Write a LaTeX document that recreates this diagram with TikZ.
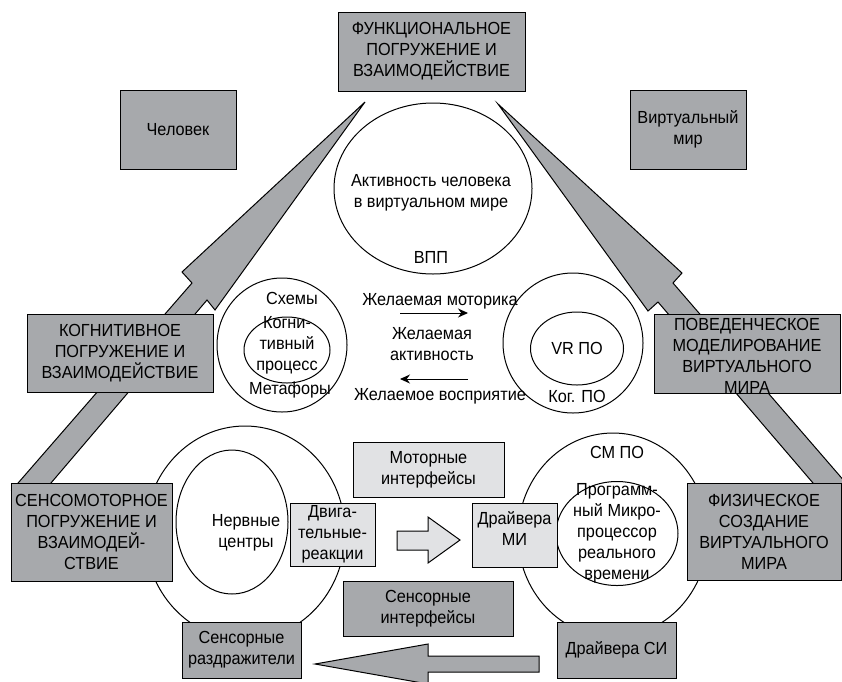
\documentclass[tikz,border=0pt]{standalone}
\usepackage{fontspec}
\setmainfont{Liberation Sans}[FakeStretch=0.93]
\usetikzlibrary{arrows.meta}
\definecolor{darkbox}{RGB}{167,169,172}
\definecolor{lightbox}{RGB}{225,226,228}
\tikzset{
  txt/.style={inner sep=0pt, align=center, font=\fontsize{17.5}{21}\selectfont},
  dbox/.style={txt, draw, fill=darkbox, line width=1pt},
  lbox/.style={txt, draw, fill=lightbox, line width=1pt},
  ring/.style={draw, line width=1pt},
  bigarrow/.style={draw, fill=darkbox, line width=1pt},
  blockarrow/.style={draw, fill=lightbox, line width=1pt}
}
\begin{document}
\begin{tikzpicture}[x=1pt, y=-1pt, >={Stealth[length=10pt,width=9pt]}, line join=miter]
\useasboundingbox (0,0) rectangle (842,681);
\clip (0,0) rectangle (842,681);
% big side arrows
\coordinate (Ltip) at (365,102);
\coordinate (Rtip) at (498,104);
\draw[bigarrow] (12,490) -- (192,283) -- (182,272) -- (Ltip) -- (215,310) -- (207,300) -- (45,490) -- cycle;
\draw[bigarrow] (852,490) -- (673,283) -- (682,273) -- (Rtip) -- (648,311) -- (658,302) -- (819,490) -- cycle;
% ellipses
\coordinate (vpp) at (433,188.5);
\coordinate (cogout) at (282,345);
\coordinate (cogin) at (287,350);
\coordinate (vrout) at (573,343);
\coordinate (vrin) at (577,348.5);
\coordinate (nervout) at (245,533);
\coordinate (nervin) at (232,522);
\coordinate (smout) at (613,535);
\coordinate (smin) at (617,533.5);
\draw[ring] (vpp) ellipse [x radius=99pt, y radius=85.5pt];
\draw[ring] (cogout) ellipse [x radius=65pt, y radius=67pt];
\draw[ring] (cogin) ellipse [x radius=43pt, y radius=33pt];
\draw[ring] (vrout) ellipse [x radius=70pt, y radius=70pt];
\draw[ring] (vrin) ellipse [x radius=46.5pt, y radius=36.5pt];
\draw[ring] (nervout) ellipse [x radius=100pt, y radius=107pt];
\draw[ring] (nervin) ellipse [x radius=56pt, y radius=72pt];
\draw[ring] (smout) ellipse [x radius=95pt, y radius=102pt];
\draw[ring] (smin) ellipse [x radius=61pt, y radius=52pt];
% boxes
\node[dbox, minimum width=187pt, minimum height=79pt] (func) at (431.5,51.5) {ФУНКЦИОНАЛЬНОЕ\\ПОГРУЖЕНИЕ И\\ВЗАИМОДЕЙСТВИЕ};
\node[dbox, minimum width=116pt, minimum height=79pt] (man) at (178,129.5) {Человек};
\node[dbox, minimum width=116pt, minimum height=79pt] (world) at (688,129.5) {Виртуальный\\мир};
\node[dbox, minimum width=186pt, minimum height=78pt] (cogn) at (120,353) {КОГНИТИВНОЕ\\ПОГРУЖЕНИЕ И\\ВЗАИМОДЕЙСТВИЕ};
\node[dbox, minimum width=186pt, minimum height=79pt] (behav) at (747,353.5) {};
\node[txt] (behavtxt) at (747,356) {ПОВЕДЕНЧЕСКОЕ\\МОДЕЛИРОВАНИЕ\\ВИРТУАЛЬНОГО\\МИРА};
\node[dbox, minimum width=161pt, minimum height=98pt] (sensomot) at (91.5,532) {СЕНСОМОТОРНОЕ\\ПОГРУЖЕНИЕ И\\ВЗАИМОДЕЙ-\\СТВИЕ};
\node[dbox, minimum width=154pt, minimum height=97pt] (phys) at (764,531.5) {ФИЗИЧЕСКОЕ\\СОЗДАНИЕ\\ВИРТУАЛЬНОГО\\МИРА};
\node[lbox, minimum width=151pt, minimum height=55pt] (motint) at (428.5,469.5) {Моторные\\интерфейсы};
\node[dbox, minimum width=170pt, minimum height=55pt] (sensint) at (428,608.5) {Сенсорные\\интерфейсы};
\node[dbox, minimum width=119pt, minimum height=56pt] (sensraz) at (241.5,650) {Сенсорные\\раздражители};
\node[dbox, minimum width=119pt, minimum height=56pt] (drvsi) at (616.5,650) {Драйвера СИ};
\node[lbox, minimum width=85pt, minimum height=63pt] (dvig) at (332.5,534.5) {Двига-\\тельные-\\реакции};
\node[lbox, minimum width=85pt, minimum height=64pt] (drvmi) at (514.5,535) {};
\node[txt] (drvmitxt) at (514.5,528) {Драйвера\\МИ};
% texts in ellipses
\node[txt] (act) at (431,192.5) {Активность человека\\в виртуальном мире};
\node[txt] (vpptxt) at (431,257) {ВПП};
\node[txt] (schem) at (292,298) {Схемы};
\node[txt] (cogproc) at (287,345) {Когни-\\тивный\\процесс};
\node[txt] (metaf) at (290,390) {Метафоры};
\node[txt] (vrpo) at (577,348) {VR ПО};
\node[txt] (kogpo) at (577,396) {Ког. ПО};
\node[txt] (smpo) at (617,452) {СМ ПО};
\node[txt] (nerv) at (246,533) {Нервные\\центры};
\node[txt] (micro) at (617,533.5) {Программ-\\ный Микро-\\процессор\\реального\\времени};
% middle arrows
\node[txt] (motor) at (440,301) {Желаемая моторика};
\node[txt] (activ) at (432,344.5) {Желаемая\\активность};
\node[txt] (percep) at (440,396) {Желаемое восприятие};
\coordinate (m1) at (400,313);
\coordinate (m2) at (468,313);
\coordinate (p1) at (468,379);
\coordinate (p2) at (400,379);
\draw[->, line width=1pt] (m1) -- (m2);
\draw[->, line width=1pt] (p1) -- (p2);
% block arrows
\draw[blockarrow] (397,531) -- (428,531) -- (428,517) -- (460,540) -- (428,563) -- (428,550) -- (397,550) -- cycle;
\draw[bigarrow] (539,656) -- (428,656) -- (428,644) -- (315,664) -- (428,684) -- (428,672) -- (539,672) -- cycle;
\end{tikzpicture}
\end{document}
